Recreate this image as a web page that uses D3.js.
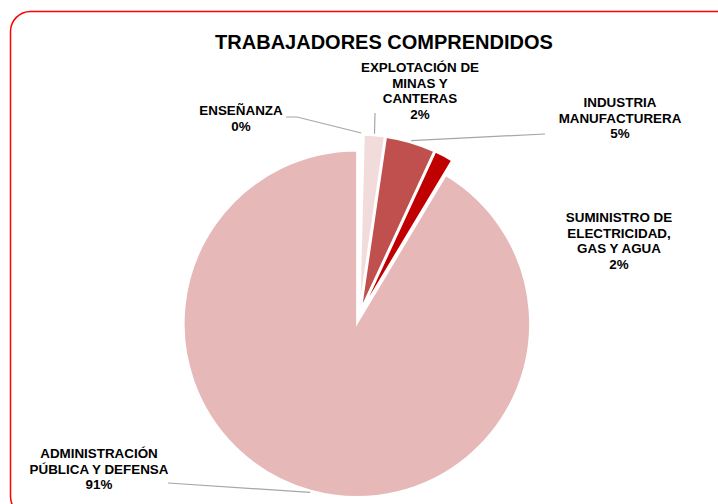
<!DOCTYPE html>
<html>
<head>
<meta charset="utf-8">
<script src="https://cdn.jsdelivr.net/npm/d3@7"></script>
<style>
  html, body { margin: 0; padding: 0; background: #fff; }
  svg { display: block; }
</style>
</head>
<body>
<div id="chart"></div>
<script>
// data
const title = "TRABAJADORES COMPRENDIDOS";
const categories = [
  ["ENSEÑANZA"],
  ["EXPLOTACIÓN DE", "MINAS Y", "CANTERAS"],
  ["INDUSTRIA", "MANUFACTURERA"],
  ["SUMINISTRO DE", "ELECTRICIDAD,", "GAS Y AGUA"],
  ["ADMINISTRACIÓN", "PÚBLICA Y DEFENSA"]
];
const values = [0.4, 1.9, 4.6, 1.7, 91.4];
const colors = ["#ffffff", "#f2dcdb", "#c0504d", "#c00000", "#e6b9b8"];

// label layout: text centre, first line y, leader start (null = no leader)
const labelPos = [
  { x: 241, y: 115, lead: [[286, 117], [297, 117]] },
  { x: 420, y: 72, lead: [[375, 113]] },
  { x: 620, y: 107, lead: [[545, 134]] },
  { x: 619, y: 222, lead: null },
  { x: 99, y: 458, lead: [[168, 483]] }
];

const width = 718, height = 504;
const cx = 359, cy = 316, radius = 173, explode = 8;

const svg = d3.select("#chart").append("svg")
  .attr("width", width)
  .attr("height", height);

// chart frame
svg.append("rect")
  .attr("x", 10.5).attr("y", 11.5)
  .attr("width", 730).attr("height", 505)
  .attr("rx", 20).attr("ry", 20)
  .attr("fill", "#fff")
  .attr("stroke", "#ff0000")
  .attr("stroke-width", 1.5);

svg.append("text")
  .attr("x", 384)
  .attr("y", 49)
  .attr("text-anchor", "middle")
  .attr("font-family", "'Liberation Sans', Arial, sans-serif")
  .attr("font-weight", "bold")
  .attr("font-size", "20px")
  .attr("fill", "#000")
  .text(title);

const total = d3.sum(values);
const pie = d3.pie().sort(null).startAngle(0).endAngle(2 * Math.PI);
const arcs = pie(values);
const arc = d3.arc().innerRadius(0).outerRadius(radius);

let offset = (d) => {
  let a = (d.startAngle + d.endAngle) / 2;
  return [cx + explode * Math.sin(a), cy - explode * Math.cos(a)];
};

const g = svg.append("g");
g.selectAll("path.slice")
  .data(arcs).enter()
  .append("path")
  .attr("class", "slice")
  .attr("transform", d => `translate(${offset(d)[0]},${offset(d)[1]})`)
  .attr("d", arc)
  .attr("fill", (d, i) => colors[i])
  .attr("stroke", "#fff")
  .attr("stroke-width", 1.5);

// leader lines
arcs.forEach((d, i) => {
  let lp = labelPos[i];
  if (!lp.lead) return;
  let a = (d.startAngle + d.endAngle) / 2;
  let o = offset(d);
  let r = radius + 2;
  let end = [o[0] + r * Math.sin(a), o[1] - r * Math.cos(a)];
  let pts = lp.lead.concat([end]);
  svg.append("path")
    .attr("d", d3.line()(pts))
    .attr("fill", "none")
    .attr("stroke", "#a6a6a6")
    .attr("stroke-width", 1.2);
});

// labels
arcs.forEach((d, i) => {
  let lp = labelPos[i];
  let lines = categories[i].concat([Math.round(d.data / total * 100) + "%"]);
  let t = svg.append("text")
    .attr("text-anchor", "middle")
    .attr("font-family", "'Liberation Sans', Arial, sans-serif")
    .attr("font-weight", "bold")
    .attr("font-size", "13.4px")
    .attr("fill", "#000");
  lines.forEach((s, k) => {
    t.append("tspan")
      .attr("x", lp.x)
      .attr("y", lp.y + k * 15.5)
      .text(s);
  });
});
</script>
</body>
</html>
